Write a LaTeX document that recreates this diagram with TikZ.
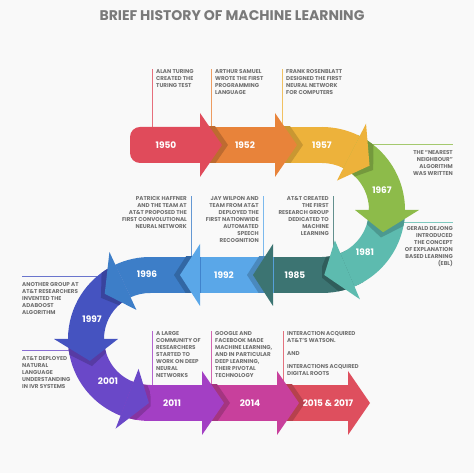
\documentclass[tikz,border=0pt]{standalone}
\usepackage{fontspec}
\setmainfont{Poppins}
\usepackage{tikz}
\definecolor{bgGray}{RGB}{249,249,249}
\definecolor{textGray}{RGB}{112,112,112}
\definecolor{titleGray}{RGB}{122,122,122}
\definecolor{segRed}{RGB}{224,75,91}
\definecolor{segOrange}{RGB}{232,131,58}
\definecolor{segYellow}{RGB}{237,178,59}
\definecolor{segGreen}{RGB}{141,187,74}
\definecolor{segTeal}{RGB}{93,187,175}
\definecolor{segDarkTeal}{RGB}{60,116,114}
\definecolor{segSky}{RGB}{90,167,232}
\definecolor{segBlue}{RGB}{61,126,200}
\definecolor{segIndigo}{RGB}{69,83,192}
\definecolor{segViolet}{RGB}{106,72,200}
\definecolor{segPurple}{RGB}{163,63,196}
\definecolor{segMagenta}{RGB}{200,64,156}
\definecolor{segRose}{RGB}{222,79,94}
% band of a turn between two angles
\newcommand{\turnband}[2]{(#1:\rout) arc[start angle=#1, end angle=#2, radius=\rout] -- (#2:\rin) arc[start angle=#2, end angle=#1, radius=\rin] -- cycle}
% head of a turn: base angle, tip angle
\newcommand{\turnhead}[2]{(#1:\hin) -- (#1:\hout) -- (#2:\rmid) -- cycle}
% heads on a row: base x, row y
\newcommand{\righthead}[2]{(#1,#2-32) -- (#1+22,#2) -- (#1,#2+32) -- cycle}
\newcommand{\lefthead}[2]{(#1,#2-31) -- (#1-20,#2) -- (#1,#2+31) -- cycle}

\begin{document}
\begin{tikzpicture}[x=1pt, y=1pt,
    note/.style={font=\fontsize{5.6}{7}\selectfont\bfseries, text=textGray, inner sep=0pt},
    year/.style={font=\fontsize{9}{10}\selectfont\bfseries, text=white},
    link/.style={line width=0.8pt}]
      % Background and title
      \fill[bgGray] (0,0) rectangle (474,473);
      \node[font=\fontsize{14}{16}\selectfont\bfseries, text=titleGray] (title) at (232,457) {BRIEF HISTORY OF MACHINE LEARNING};

      % Notes
      \node[note, align=left, anchor=north west] (t1950) at (156,404) {ALAN TURING\\CREATED THE\\TURING TEST};
      \node[note, align=left, anchor=north west] (t1952) at (215,404) {ARTHUR SAMUEL\\WROTE THE FIRST\\PROGRAMMING\\LANGUAGE};
      \node[note, align=left, anchor=north west] (t1957) at (286,404) {FRANK ROSENBLATT\\DESIGNED THE FIRST\\NEURAL NETWORK\\FOR COMPUTERS};
      \node[note, align=right, anchor=north east] (t1967) at (453,323) {THE “NEAREST\\NEIGHBOUR”\\ALGORITHM\\WAS WRITTEN};
      \node[note, align=right, anchor=north east] (t1981) at (453,247) {GERALD DEJONG\\INTRODUCED\\THE CONCEPT\\OF EXPLANATION\\BASED LEARNING\\(EBL)};
      \node[note, align=right, anchor=north east] (t1985) at (329,277) {AT\&T CREATED\\THE FIRST\\RESEARCH GROUP\\DEDICATED TO\\MACHINE\\LEARNING};
      \node[note, align=right, anchor=north east] (t1992) at (259,277) {JAY WILPON AND\\TEAM FROM AT\&T\\DEPLOYED THE\\FIRST NATIONWIDE\\AUTOMATED\\SPEECH\\RECOGNITION};
      \node[note, align=right, anchor=north east] (t1996) at (187,277) {PATRICK HAFFNER\\AND THE TEAM AT\\AT\&T PROPOSED THE\\FIRST CONVOLUTIONAL\\NEURAL NETWORK};
      \node[note, align=left, anchor=north west] (t1997) at (22,191) {ANOTHER GROUP AT\\AT\&T RESEARCHERS\\INVENTED THE\\ADABOOST\\ALGORITHM};
      \node[note, align=left, anchor=north west] (t2001) at (22,117) {AT\&T DEPLOYED\\NATURAL\\LANGUAGE\\UNDERSTANDING\\IN IVR SYSTEMS};
      \node[note, align=left, anchor=north west] (t2011) at (156,142) {A LARGE\\COMMUNITY OF\\RESEARCHERS\\STARTED TO\\WORK ON DEEP\\NEURAL\\NETWORKS};
      \node[note, align=left, anchor=north west] (t2014) at (215,142) {GOOGLE AND\\FACEBOOK MADE\\MACHINE LEARNING,\\AND IN PARTICULAR\\DEEP LEARNING,\\THEIR PIVOTAL\\TECHNOLOGY};
      \node[note, align=left, anchor=north west] (t2015) at (287,142) {INTERACTION ACQUIRED\\AT\&T’S WATSON.\\[6pt]AND\\[6pt]INTERACTIONS ACQUIRED\\DIGITAL ROOTS};

      % Lines from the band to the notes
      \coordinate (b1950) at (152,340);
      \coordinate (b1952) at (211,340);
      \coordinate (b1957) at (282,340);
      \coordinate (b1967) at (362,329);
      \coordinate (b1981) at (398,251);
      \coordinate (b1985) at (333,205);
      \coordinate (b1992) at (263,205);
      \coordinate (b1996) at (191,205);
      \coordinate (b1997) at (110,197);
      \coordinate (b2001) at (75,123);
      \coordinate (b2011) at (152,80);
      \coordinate (b2014) at (211,80);
      \coordinate (b2015) at (283,80);
      \draw[link, segRed!80] (b1950) -- (b1950 |- t1950.north);
      \draw[link, segOrange!80] (b1952) -- (b1952 |- t1952.north);
      \draw[link, segYellow!80] (b1957) -- (b1957 |- t1957.north);
      \draw[link, segGreen!80] (b1967) -- (b1967 -| t1967.east);
      \draw[link, segTeal!80] (b1981) -- (b1981 -| t1981.east);
      \draw[link, segDarkTeal!80] (b1985) -- (b1985 |- t1985.north);
      \draw[link, segSky!80] (b1992) -- (b1992 |- t1992.north);
      \draw[link, segBlue!80] (b1996) -- (b1996 |- t1996.north);
      \draw[link, segIndigo!80] (b1997) -- (b1997 -| t1997.west);
      \draw[link, segViolet!80] (b2001) -- (b2001 -| t2001.west);
      \draw[link, segPurple!80] (b2011) -- (b2011 |- t2011.north);
      \draw[link, segMagenta!80] (b2014) -- (b2014 |- t2014.north);
      \draw[link, segRose!80] (b2015) -- (b2015 |- t2015.north);

      % Bodies: top row
      \fill[segYellow] (270,310) rectangle (323,346);
      \fill[segOrange] (198,310) rectangle (276,346);
      \fill[segRed, rounded corners=10pt] (200,310) -- (130,310) -- (130,346) -- (200,346);
      % Bodies: right turn
      \begin{scope}[shift={(322,263)}]
        \def\rin{47}\def\rout{83}\def\rmid{65}\def\hin{33}\def\hout{97}
        \fill[segDarkTeal] \turnband{-60}{-90};
        \fill[segTeal] \turnband{2}{-67};
        \fill[segGreen] \turnband{65}{0};
        \fill[segYellow] \turnband{90}{63};
      \end{scope}
      % Bodies: middle row
      \fill[segDarkTeal] (273,180) rectangle (322.5,216);
      \fill[segSky] (198,180) rectangle (274,216);
      \fill[segBlue] (149.5,180) rectangle (201,216);
      % Bodies: left turn
      \begin{scope}[shift={(150,134)}]
        \def\rin{46}\def\rout{82}\def\rmid{64}\def\hin{32}\def\hout{96}
        \fill[segPurple] \turnband{245}{270.5};
        \fill[segViolet] \turnband{180}{249};
        \fill[segIndigo] \turnband{115}{180};
        \fill[segBlue] \turnband{89.5}{115};
      \end{scope}
      % Bodies: bottom row
      \fill[segRose] (277,52) rectangle (348,88);
      \fill[segMagenta] (202,52) rectangle (278,88);
      \fill[segPurple] (149.5,52) rectangle (203,88);

      % Heads with their shadows: top row
      \begin{scope}\clip (200,310) rectangle (276,346); \fill[segOrange!82!black] \righthead{206}{328}; \end{scope}
      \fill[segRed] \righthead{200}{328};
      \begin{scope}\clip (275,310) rectangle (323,346); \fill[segYellow!85!black] \righthead{281}{328}; \end{scope}
      \fill[segOrange] \righthead{275}{328};
      % Heads: right turn
      \begin{scope}[shift={(322,263)}]
        \def\rin{47}\def\rout{83}\def\rmid{65}\def\hin{33}\def\hout{97}
        \begin{scope}\clip \turnband{65}{0}; \fill[segGreen!82!black] \turnhead{58}{38}; \end{scope}
        \fill[segYellow] \turnhead{63}{43};
        \begin{scope}\clip \turnband{2}{-67}; \fill[segTeal!82!black] \turnhead{-5}{-25}; \end{scope}
        \fill[segGreen] \turnhead{0}{-20};
        \begin{scope}\clip \turnband{-60}{-90}; \fill[segDarkTeal!80!black] \turnhead{-72}{-93}; \end{scope}
        \fill[segTeal] \turnhead{-67}{-88};
      \end{scope}
      % Heads: middle row
      \begin{scope}\clip (198,180) rectangle (274,216); \fill[segSky!82!black] \lefthead{267}{198}; \end{scope}
      \fill[segDarkTeal] \lefthead{273}{198};
      \begin{scope}\clip (150,180) rectangle (201,216); \fill[segBlue!82!black] \lefthead{194}{198}; \end{scope}
      \fill[segSky] \lefthead{200}{198};
      % Heads: left turn
      \begin{scope}[shift={(150,134)}]
        \def\rin{46}\def\rout{82}\def\rmid{64}\def\hin{32}\def\hout{96}
        \begin{scope}\clip \turnband{115}{180}; \fill[segIndigo!82!black] \turnhead{120}{140}; \end{scope}
        \fill[segBlue] \turnhead{115}{135};
        \begin{scope}\clip \turnband{180}{249}; \fill[segViolet!82!black] \turnhead{185}{205}; \end{scope}
        \fill[segIndigo] \turnhead{180}{200};
        \begin{scope}\clip \turnband{245}{270.5}; \fill[segPurple!82!black] \turnhead{254}{274}; \end{scope}
        \fill[segViolet] \turnhead{249}{269};
      \end{scope}
      % Heads: bottom row
      \begin{scope}\clip (202,52) rectangle (278,88); \fill[segMagenta!82!black] \righthead{208}{70}; \end{scope}
      \fill[segPurple] \righthead{202}{70};
      \begin{scope}\clip (277,52) rectangle (348,88); \fill[segRose!82!black] \righthead{283}{70}; \end{scope}
      \fill[segMagenta] \righthead{277}{70};
      \fill[segRose] \righthead{348}{70};

      % Years
      \node[year] (y1950) at (166,328) {1950};
      \node[year] (y1952) at (245,328) {1952};
      \node[year] (y1957) at (322,328) {1957};
      \node[year] (y1967) at (382,283) {1967};
      \node[year] (y1981) at (365,221) {1981};
      \node[year] (y1985) at (295,198) {1985};
      \node[year] (y1992) at (224,198) {1992};
      \node[year] (y1996) at (147,199) {1996};
      \node[year] (y1997) at (92,154) {1997};
      \node[year] (y2001) at (108,92) {2001};
      \node[year] (y2011) at (172,70) {2011};
      \node[year] (y2014) at (250,70) {2014};
      \node[year] (y2015) at (328,70) {2015 \& 2017};
    \end{tikzpicture}
\end{document}
